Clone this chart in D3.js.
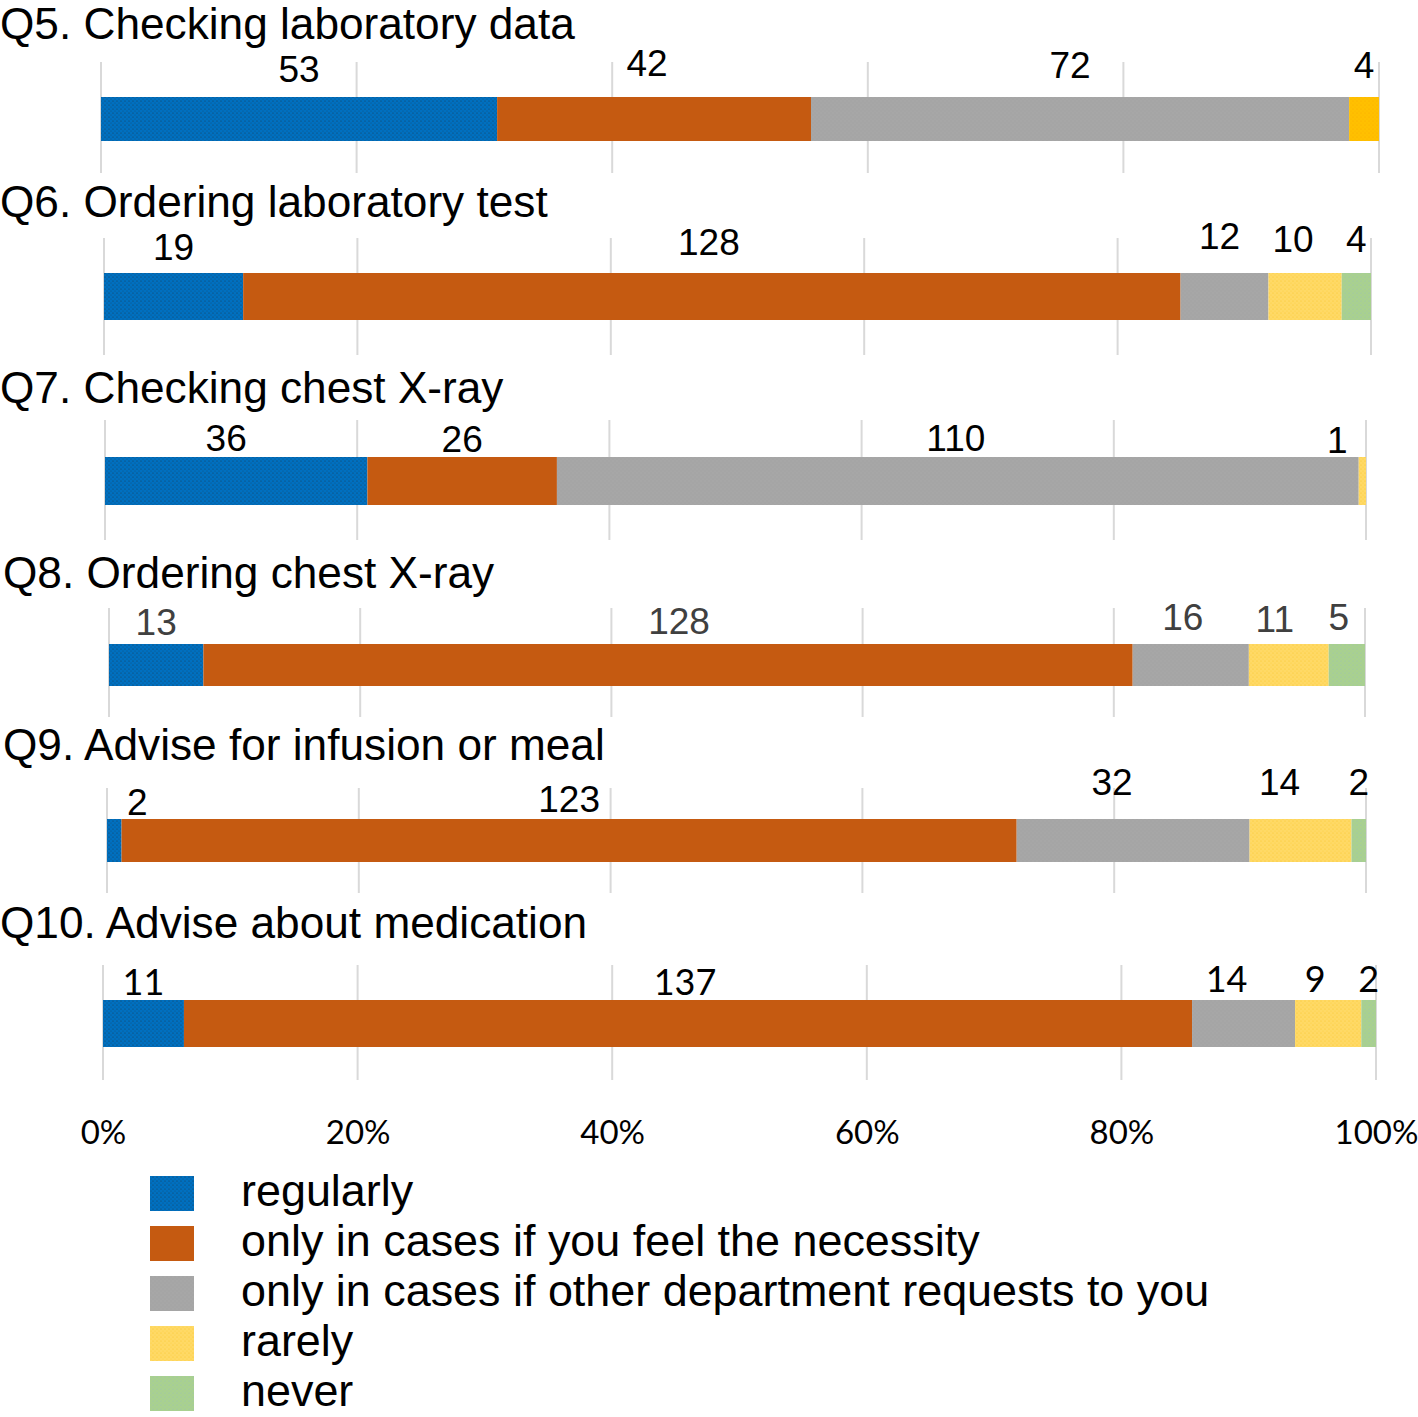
<!DOCTYPE html>
<html>
<head>
<meta charset="utf-8">
<script src="https://cdn.jsdelivr.net/npm/d3@7/dist/d3.min.js"></script>
<style>
  html, body { margin: 0; padding: 0; background: #fff; }
  svg { display: block; }
</style>
</head>
<body>
<script>
// ---- data ----
const questions = [
  "Q5. Checking laboratory data",
  "Q6. Ordering laboratory test",
  "Q7. Checking chest X-ray",
  "Q8. Ordering chest X-ray",
  "Q9. Advise for infusion or meal",
  "Q10. Advise about medication"
];
const seriesNames = [
  "regularly",
  "only in cases if you feel the necessity",
  "only in cases if other department requests to you",
  "rarely",
  "never"
];
const regularly = [53, 19, 36, 13, 2, 11];
const necessity = [42, 128, 26, 128, 123, 137];
const otherDept = [72, 12, 110, 16, 32, 14];
const rarely    = [4, 10, 1, 11, 14, 9];
const never     = [0, 4, 0, 5, 2, 2];
const tickValues = [0, 0.2, 0.4, 0.6, 0.8, 1];
const tickLabels = ["0%", "20%", "40%", "60%", "80%", "100%"];

// ---- layout (positions/styles only) ----
const layout = [
  {x0:101, x1:1379, barTop:97,  barH:44, gridTop:62,  gridBot:173, titleY:39,  titleX:0, labelY:[82,76,78,78,78],      nudge:[0,-7,-10,0,0]},
  {x0:104, x1:1371, barTop:273, barH:47, gridTop:238, gridBot:355, titleY:217, titleX:0, labelY:[260,255,249,252,252],  nudge:[0,-3,-5,-12,0]},
  {x0:105, x1:1366, barTop:457, barH:48, gridTop:420, gridBot:540, titleY:403, titleX:0, labelY:[451,452,451,453,453],  nudge:[-10,0,-2,-25,0]},
  {x0:109, x1:1365, barTop:644, barH:42, gridTop:608, gridBot:717, titleY:588, titleX:3, labelY:[635,634,630,632,630],  nudge:[0,11,-8,-14,-8]},
  {x0:107, x1:1366, barTop:819, barH:43, gridTop:788, gridBot:893, titleY:760, titleX:3, labelY:[815,812,795,795,795],  nudge:[23,0,-21,-21,0]},
  {x0:103, x1:1376, barTop:1000,barH:47, gridTop:965, gridBot:1080,titleY:938, titleX:0, labelY:[995,995,992,992,992],  nudge:[0,-3,-17,-13,0]}
];
const colors = ["#0070C0", "#C55A11", "#A5A5A5", "#FFD966", "#A9D18E"];
const q5Rarely = "#FFC000";

const W = 1418, H = 1417;
const svg = d3.select("body").append("svg").attr("width", W).attr("height", H);

// dot textures
const defs = svg.append("defs");
function dotPattern(id, base, dot, op) {
  const p = defs.append("pattern").attr("id", id).attr("patternUnits", "userSpaceOnUse")
    .attr("width", 4).attr("height", 4);
  p.append("rect").attr("width", 4).attr("height", 4).attr("fill", base);
  p.append("circle").attr("cx", 1).attr("cy", 1).attr("r", 0.6).attr("fill", dot).attr("opacity", op);
  p.append("circle").attr("cx", 3).attr("cy", 3).attr("r", 0.5).attr("fill", dot).attr("opacity", op * 0.7);
  return `url(#${id})`;
}
const fills = [
  dotPattern("pBlue", colors[0], "#222", 0.7),
  colors[1],
  dotPattern("pGrey", colors[2], "#bbb", 0.4),
  dotPattern("pYellow", colors[3], "#f2b800", 0.6),
  dotPattern("pGreen", colors[4], "#8fb3d0", 0.6)
];
const fillQ5Rarely = dotPattern("pYellow2", q5Rarely, "#f59a00", 0.6);

const seriesValues = [regularly, necessity, otherDept, rarely, never];
const stack = d3.stack().keys(d3.range(seriesNames.length)).value((d, k) => d[k]);

questions.forEach((q, i) => {
  const L = layout[i];
  const row = seriesValues.map(s => s[i]);
  const total = d3.sum(row);
  const x = d3.scaleLinear().domain([0, 1]).range([L.x0, L.x1]);
  const g = svg.append("g");

  // gridlines
  g.selectAll("line.grid").data(tickValues).join("line")
    .attr("x1", d => x(d)).attr("x2", d => x(d))
    .attr("y1", L.gridTop).attr("y2", L.gridBot)
    .attr("stroke", "#D9D9D9").attr("stroke-width", 2);

  // bars
  const stacked = stack([row]);
  const segs = stacked.map((s, k) => ({k, v: row[k], a: s[0][0] / total, b: s[0][1] / total}));
  g.selectAll("rect.seg").data(segs.filter(d => d.v > 0)).join("rect")
    .attr("x", d => x(d.a)).attr("width", d => x(d.b) - x(d.a))
    .attr("y", L.barTop).attr("height", L.barH)
    .attr("fill", d => (i === 0 && d.k === 3) ? fillQ5Rarely : fills[d.k]);

  // value labels
  const isQ10 = i === 5;
  g.selectAll("text.val").data(segs.filter(d => d.v > 0)).join("text")
    .attr("x", d => (x(d.a) + x(d.b)) / 2 + L.nudge[d.k])
    .attr("y", d => L.labelY[d.k])
    .attr("text-anchor", "middle")
    .attr("font-family", isQ10 ? "Lato, 'Open Sans', sans-serif" : "'Liberation Sans', Arial, sans-serif")
    .attr("font-size", isQ10 ? 36 : 37)
    .attr("fill", i === 3 ? "#404040" : "#000")
    .text(d => d.v);

  // title
  svg.append("text").attr("x", L.titleX).attr("y", L.titleY)
    .attr("font-family", "'Liberation Sans', Arial, sans-serif")
    .attr("font-size", 44.2).attr("fill", "#000").text(q);
});

// x axis labels (bottom panel scale)
const xAxisScale = d3.scaleLinear().domain([0, 1]).range([layout[5].x0, layout[5].x1]);
const axis = d3.axisBottom(xAxisScale).tickValues(tickValues)
  .tickFormat((d, j) => tickLabels[j]).tickSize(0).tickPadding(0);
const ag = svg.append("g").attr("transform", "translate(0,1121)").call(axis);
ag.select(".domain").remove();
ag.selectAll("text").attr("font-family", "Lato, 'Open Sans', sans-serif")
  .attr("font-size", 33).attr("fill", "#000");

// legend
const lg = svg.append("g");
seriesNames.forEach((name, k) => {
  const base = 1206 + k * 50;
  lg.append("rect").attr("x", 150).attr("y", base - 30).attr("width", 44).attr("height", 35)
    .attr("fill", fills[k]);
  lg.append("text").attr("x", 241).attr("y", base)
    .attr("font-family", "'Liberation Sans', Arial, sans-serif")
    .attr("font-size", 44.9).attr("fill", "#000").text(name);
});
</script>
</body>
</html>
